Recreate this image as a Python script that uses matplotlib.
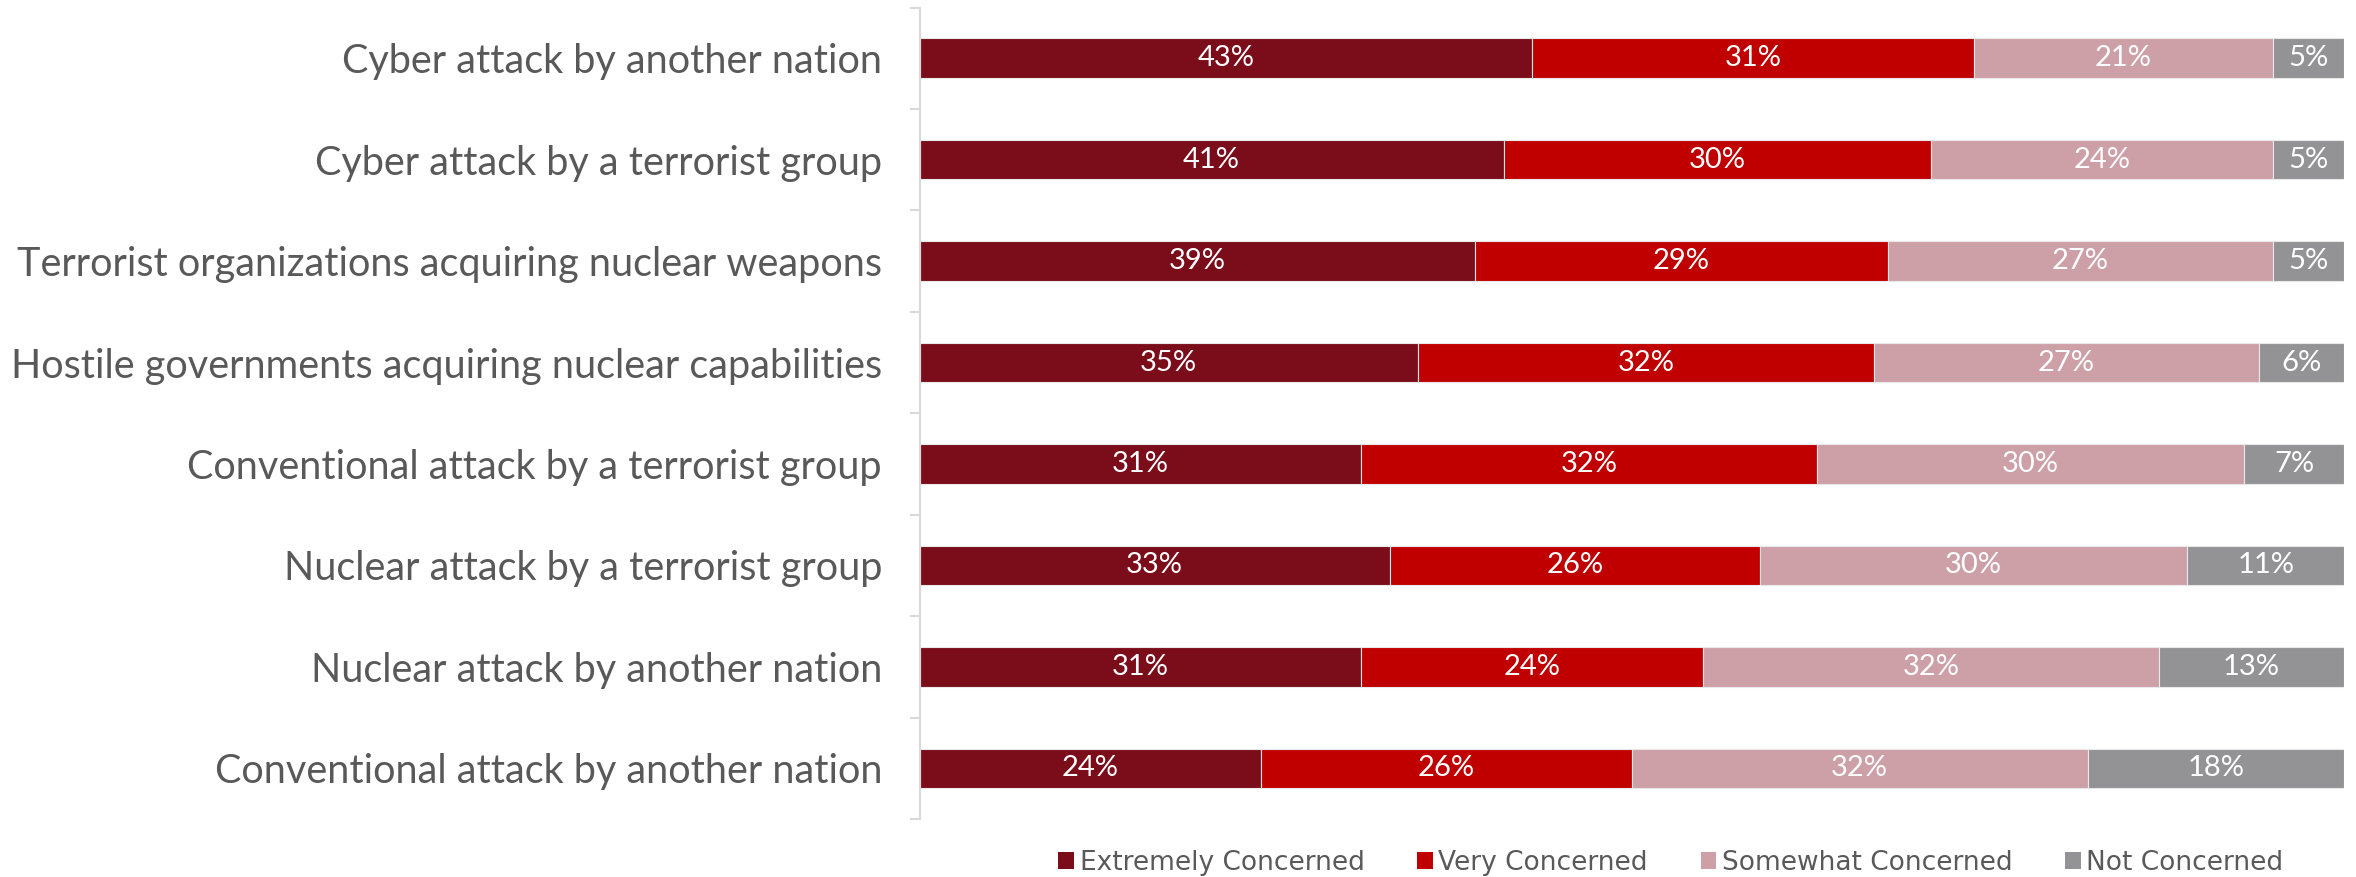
import matplotlib
matplotlib.use("Agg")
import matplotlib.pyplot as plt
from matplotlib.patches import Patch
import numpy as np

categories = [
    "Cyber attack by another nation",
    "Cyber attack by a terrorist group",
    "Terrorist organizations acquiring nuclear weapons",
    "Hostile governments acquiring nuclear capabilities",
    "Conventional attack by a terrorist group",
    "Nuclear attack by a terrorist group",
    "Nuclear attack by another nation",
    "Conventional attack by another nation",
]
extremely = [43, 41, 39, 35, 31, 33, 31, 24]
very = [31, 30, 29, 32, 32, 26, 24, 26]
somewhat = [21, 24, 27, 27, 30, 30, 32, 32]
not_concerned = [5, 5, 5, 6, 7, 11, 13, 18]

series_names = ["Extremely Concerned", "Very Concerned", "Somewhat Concerned", "Not Concerned"]
series_values = [extremely, very, somewhat, not_concerned]
colors = ["#7B0C1A", "#C00000", "#CDA0A8", "#939396"]

fig = plt.figure(figsize=(23.56, 8.77), dpi=100)
ax = fig.add_axes([0.3903, 0.0661, 0.6046, 0.9253])

y = np.arange(len(categories))
left = np.zeros(len(categories))
for name, vals, col in zip(series_names, series_values, colors):
    vals = np.array(vals, dtype=float)
    bars = ax.barh(y, vals, left=left, height=0.39, color=col,
                   edgecolor="#E8E8E8", linewidth=0.8, label=name)
    for b, v in zip(bars, vals):
        ax.text(b.get_x() + b.get_width() / 2, b.get_y() + b.get_height() / 2,
                f"{int(v)}%", ha="center", va="center", color="white",
                fontsize=21, family="Lato")
    left += vals

ax.set_xlim(0, 100)
ax.set_ylim(len(categories) - 0.5, -0.5)
ax.set_yticks(y)
ax.set_yticklabels(categories, fontsize=28.5, family="Lato", color="#595959")
ax.set_yticks(np.arange(-0.5, len(categories), 1.0), minor=True)
ax.tick_params(axis="y", which="major", length=0, pad=27)
ax.tick_params(axis="y", which="minor", length=7, width=1.5, color="#D9D9D9", direction="out")
ax.set_xticks([])
for s in ["top", "right", "bottom"]:
    ax.spines[s].set_visible(False)
ax.spines["left"].set_color("#D9D9D9")
ax.spines["left"].set_linewidth(1.5)

handles = [Patch(facecolor=c, edgecolor="none", label=n) for n, c in zip(series_names, colors)]
fig.legend(handles=handles, loc="center", bbox_to_anchor=(0.7092, 0.016), ncol=4,
           frameon=False, prop={"family": ["Liberation Sans Narrow", "DejaVu Sans"], "size": 19},
           labelcolor="#595959", handlelength=0.6, handleheight=0.6,
           handletextpad=0.2, columnspacing=2.0)

fig.savefig("out.png", dpi=100)
